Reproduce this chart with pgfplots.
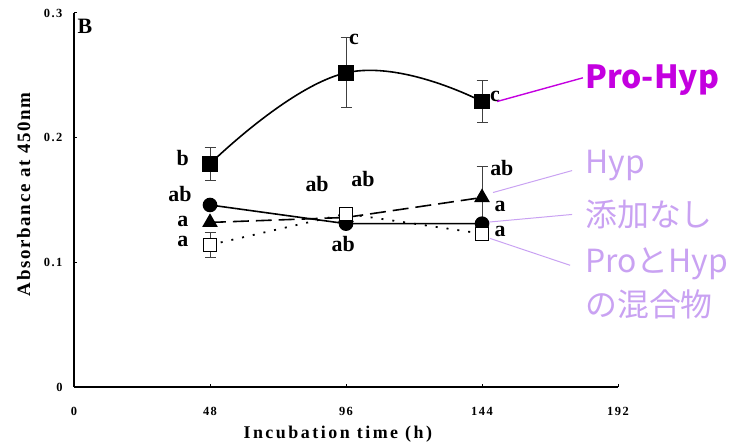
\documentclass[border=0pt]{standalone}
\usepackage{fontspec}
\setmainfont{Liberation Serif}
\newfontfamily\cjk{Noto Sans CJK JP}
\usepackage{pgfplots}
\pgfplotsset{compat=1.18}
\definecolor{prohyp}{HTML}{C400E0}
\definecolor{lightlab}{HTML}{C9A2F2}

\begin{document}
\begin{tikzpicture}[x=1bp,y=1bp,
    sig/.style={font=\bfseries\fontsize{22}{24}\selectfont, inner sep=0pt}]
\useasboundingbox (0,0) rectangle (738,445);
\begin{axis}[
    at={(74bp,58bp)}, anchor=south west,
    scale only axis, width=544bp, height=374bp,
    xmin=0, xmax=192, ymin=0, ymax=0.3,
    axis x line=bottom, axis y line=left,
    axis line style={-, line width=1.6pt, black},
    xtick={0,48,96,144,192}, ytick={0,0.1,0.2,0.3},
    yticklabels={0,0.1,0.2,0.3},
    tick align=inside, major tick length=3pt,
    tick style={black, line width=1pt},
    tick label style={font=\bfseries\fontsize{12.5}{13}\selectfont\addfontfeature{LetterSpace=12}},
    xticklabel style={yshift=-17bp},
    yticklabel style={xshift=-8bp},
    /pgf/number format/assume math mode=true,
    xlabel={Incubation time (h)},
    ylabel={Absorbance at 450nm},
    xlabel style={at={(axis description cs:0.485,-0.094)}, anchor=north,
        font=\bfseries\fontsize{18}{19}\selectfont\addfontfeature{LetterSpace=14}},
    ylabel style={at={(axis description cs:-0.074,0.515)}, anchor=south, rotate=0,
        font=\bfseries\fontsize{19}{20}\selectfont\addfontfeature{LetterSpace=9}},
    clip=false,
    error bars/error bar style={line width=1pt, black!75, solid},
    error bars/error mark options={rotate=90, mark size=5.5bp, line width=1pt, black!75, solid},
]
% error bars first, so that the marks lie over them
\addplot[only marks, mark=none, forget plot, error bars/.cd, y dir=both, y explicit]
    coordinates {(48,0.179) +- (0,0.013) (96,0.252) +- (0,0.028) (144,0.229) +- (0,0.017)};
\addplot[only marks, mark=none, forget plot, error bars/.cd, y dir=both, y explicit]
    coordinates {(144,0.152) +- (0,0.025)};
\addplot[only marks, mark=none, forget plot, error bars/.cd, y dir=both, y explicit]
    coordinates {(48,0.114) +- (0,0.010)};

% Pro-Hyp
\addplot[black, line width=1.6pt, smooth, tension=0.75, mark=square*, mark size=7bp]
    coordinates {(48,0.179) (96,0.252) (144,0.229)};
% no addition
\addplot[black, line width=1.6pt, mark=*, mark size=6.5bp]
    coordinates {(48,0.146) (96,0.131) (144,0.131)};
% Hyp
\addplot[black, line width=1.6pt, dash pattern=on 16pt off 7pt, mark=triangle*, mark size=7.5bp,
    mark options={solid}]
    coordinates {(48,0.132) (96,0.136) (144,0.152)};
% Pro + Hyp mixture
\addplot[black, line width=1.8pt, dash pattern=on 2pt off 9pt, mark=square*, mark size=6.5bp,
    mark options={solid, fill=white, draw=black, line width=1.2pt}]
    coordinates {(48,0.114) (96,0.139) (144,0.123)};

% significance letters
\node[sig] at (axis cs:38.4,0.184) {b};
\node[sig] at (axis cs:98.8,0.279) {c};
\node[sig] at (axis cs:148.6,0.233) {c};
\node[sig] at (axis cs:37.4,0.155) {ab};
\node[sig] at (axis cs:38.4,0.133) {a};
\node[sig] at (axis cs:38.4,0.117) {a};
\node[sig] at (axis cs:85.8,0.163) {ab};
\node[sig] at (axis cs:102.0,0.167) {ab};
\node[sig] at (axis cs:95.0,0.115) {ab};
\node[sig] at (axis cs:151.0,0.176) {ab};
\node[sig] at (axis cs:150.4,0.145) {a};
\node[sig] at (axis cs:150.4,0.125) {a};
\node[sig] at (axis cs:3.9,0.289) {B};

% callouts
\draw[prohyp, line width=1.4pt] (axis cs:149.3,0.229) -- (axis cs:179.6,0.248);
\draw[lightlab, line width=1pt] (axis cs:147.9,0.156) -- (axis cs:175.8,0.1736);
\draw[lightlab, line width=1pt] (axis cs:145.0,0.132) -- (axis cs:175.8,0.1384);
\draw[lightlab, line width=1pt] (axis cs:146.8,0.1192) -- (axis cs:175.1,0.0976);
\node[anchor=west, inner sep=0pt, prohyp, font=\cjk\bfseries\fontsize{32}{36}\selectfont] at (axis cs:180.4,0.2464) {Pro-Hyp};
\node[anchor=west, inner sep=0pt, lightlab, font=\cjk\fontsize{32}{34}\selectfont] at (axis cs:180.4,0.1776) {Hyp};
\node[anchor=west, inner sep=0pt, lightlab, font=\cjk\fontsize{32}{34}\selectfont] at (axis cs:180.4,0.1384) {添加なし};
\node[anchor=west, inner sep=0pt, lightlab, font=\cjk\fontsize{32}{34}\selectfont] at (axis cs:180.4,0.0984) {ProとHyp};
\node[anchor=west, inner sep=0pt, lightlab, font=\cjk\fontsize{32}{34}\selectfont] at (axis cs:180.4,0.0664) {の混合物};
\end{axis}
\end{tikzpicture}
\end{document}
